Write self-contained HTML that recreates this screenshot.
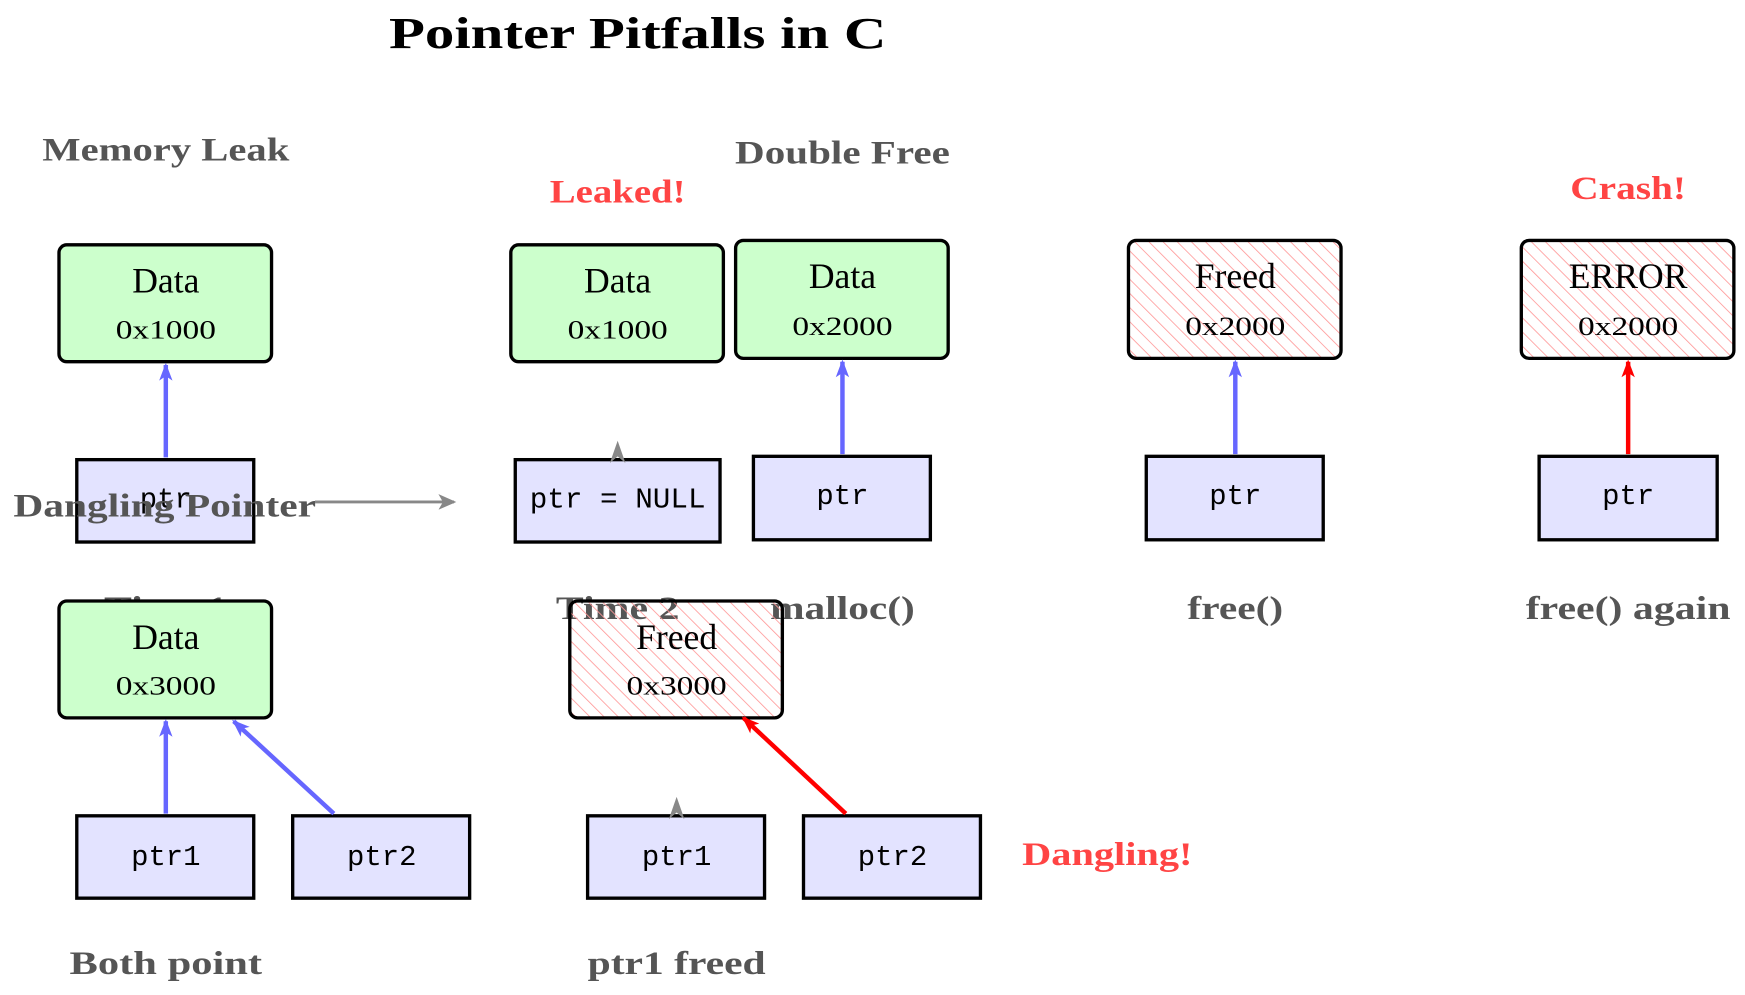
<!DOCTYPE html>
<html><head><meta charset="utf-8"><style>html,body{margin:0;padding:0;background:#fff}svg{display:block}</style></head>
<body>
<svg width="1745" height="995" viewBox="0 0 1568 894" preserveAspectRatio="none" xmlns="http://www.w3.org/2000/svg">
<defs>
<pattern id="h" width="9" height="9" patternUnits="userSpaceOnUse" patternTransform="rotate(-45)">
<line x1="0" y1="0" x2="0" y2="9" stroke="#f99" stroke-width="1.5"/>
</pattern>
<marker id="ab" markerWidth="16" markerHeight="14" refX="14" refY="7" orient="auto" markerUnits="userSpaceOnUse"><path d="M0,1 L16,7 L0,13 L4,7z" fill="#66f"/></marker>
<marker id="ar" markerWidth="16" markerHeight="14" refX="14" refY="7" orient="auto" markerUnits="userSpaceOnUse"><path d="M0,1 L16,7 L0,13 L4,7z" fill="#f00"/></marker>
<marker id="ag" markerWidth="16" markerHeight="14" refX="14" refY="7" orient="auto" markerUnits="userSpaceOnUse"><path d="M0,0 L16,7 L0,14 L4,7z" fill="#888"/></marker>
</defs>
<g font-family="Liberation Serif, serif" text-anchor="middle">
<text x="573" y="43" font-size="40" font-weight="bold" textLength="447" lengthAdjust="spacingAndGlyphs">Pointer Pitfalls in C</text>
<g fill="#555" font-weight="bold" font-size="29" lengthAdjust="spacingAndGlyphs">
<text x="149" y="144" textLength="222" lengthAdjust="spacingAndGlyphs">Memory Leak</text>
<text x="757" y="147" textLength="193" lengthAdjust="spacingAndGlyphs">Double Free</text>
<text x="149" y="556" textLength="111" lengthAdjust="spacingAndGlyphs">Time 1</text>
<text x="555" y="556" textLength="111" lengthAdjust="spacingAndGlyphs">Time 2</text>
<text x="757" y="556" textLength="130" lengthAdjust="spacingAndGlyphs">malloc()</text>
<text x="1110" y="556" textLength="86" lengthAdjust="spacingAndGlyphs">free()</text>
<text x="1463" y="556" textLength="184" lengthAdjust="spacingAndGlyphs">free() again</text>
<text x="149" y="875" textLength="173" lengthAdjust="spacingAndGlyphs">Both point</text>
<text x="608" y="875" textLength="160" lengthAdjust="spacingAndGlyphs">ptr1 freed</text>
</g>
<g fill="#f44" font-weight="bold" font-size="29">
<text x="555" y="182" textLength="122" lengthAdjust="spacingAndGlyphs">Leaked!</text>
<text x="1463" y="179" textLength="104" lengthAdjust="spacingAndGlyphs">Crash!</text>
<text x="995" y="777" textLength="153" lengthAdjust="spacingAndGlyphs">Dangling!</text>
</g>
<g stroke="#000" stroke-width="3">
<rect x="53" y="220" width="191" height="105" rx="7" fill="#cfc"/>
<rect x="459" y="220" width="191" height="105" rx="7" fill="#cfc"/>
<rect x="661" y="216" width="191" height="106" rx="7" fill="#cfc"/>
<rect x="1014" y="216" width="191" height="106" rx="7" fill="url(#h)"/>
<rect x="1367" y="216" width="191" height="106" rx="7" fill="url(#h)"/>
<rect x="53" y="540" width="191" height="105" rx="7" fill="#cfc"/>
<rect x="512" y="540" width="191" height="105" rx="7" fill="url(#h)"/>
<g fill="#e3e3ff">
<rect x="69" y="413" width="159" height="74"/>
<rect x="463" y="413" width="184" height="74"/>
<rect x="677" y="410" width="159" height="75"/>
<rect x="1030" y="410" width="159" height="75"/>
<rect x="1383" y="410" width="160" height="75"/>
<rect x="69" y="733" width="159" height="74"/>
<rect x="263" y="733" width="159" height="74"/>
<rect x="528" y="733" width="159" height="74"/>
<rect x="722" y="733" width="159" height="74"/>
</g>
</g>
<g font-size="32">
<text x="149" y="263">Data</text><text x="555" y="263">Data</text><text x="757" y="259">Data</text>
<text x="1110" y="259">Freed</text><text x="1463" y="259">ERROR</text>
<text x="149" y="583">Data</text><text x="608" y="583">Freed</text>
</g>
<g font-size="24">
<text x="149" y="304" textLength="90" lengthAdjust="spacingAndGlyphs">0x1000</text><text x="555" y="304" textLength="90" lengthAdjust="spacingAndGlyphs">0x1000</text><text x="757" y="301" textLength="90" lengthAdjust="spacingAndGlyphs">0x2000</text>
<text x="1110" y="301" textLength="90" lengthAdjust="spacingAndGlyphs">0x2000</text><text x="1463" y="301" textLength="90" lengthAdjust="spacingAndGlyphs">0x2000</text>
<text x="149" y="624" textLength="90" lengthAdjust="spacingAndGlyphs">0x3000</text><text x="608" y="624" textLength="90" lengthAdjust="spacingAndGlyphs">0x3000</text>
</g>
<g font-family="Liberation Mono, monospace" font-size="26">
<text x="149" y="456">ptr</text><text x="555" y="456" textLength="158" lengthAdjust="spacingAndGlyphs">ptr = NULL</text><text x="757" y="453">ptr</text>
<text x="1110" y="453">ptr</text><text x="1463" y="453">ptr</text>
<text x="149" y="777">ptr1</text><text x="343" y="777">ptr2</text><text x="608" y="777">ptr1</text><text x="802" y="777">ptr2</text>
</g>
<text x="148" y="464" font-size="29" font-weight="bold" fill="#555" textLength="272" lengthAdjust="spacingAndGlyphs">Dangling Pointer</text>
</g>
<g stroke-width="4" fill="none">
<line x1="149" y1="411" x2="149" y2="328" stroke="#66f" marker-end="url(#ab)"/>
<line x1="757" y1="408" x2="757" y2="325" stroke="#66f" marker-end="url(#ab)"/>
<line x1="1110" y1="408" x2="1110" y2="325" stroke="#66f" marker-end="url(#ab)"/>
<line x1="1463" y1="408" x2="1463" y2="325" stroke="#f00" marker-end="url(#ar)"/>
<line x1="149" y1="731" x2="149" y2="648" stroke="#66f" marker-end="url(#ab)"/>
<line x1="300" y1="731" x2="210" y2="648" stroke="#66f" marker-end="url(#ab)"/>
<line x1="760" y1="731" x2="668" y2="645" stroke="#f00" marker-end="url(#ar)"/>
<line x1="283" y1="451" x2="408" y2="451" stroke="#888" stroke-width="2.5" marker-end="url(#ag)"/>
</g>
<path d="M555,396 L562,416 L555,410 L548,416z" fill="#888"/>
<path d="M608,716 L615,736 L608,730 L601,736z" fill="#888"/>
</svg>
</body></html>
